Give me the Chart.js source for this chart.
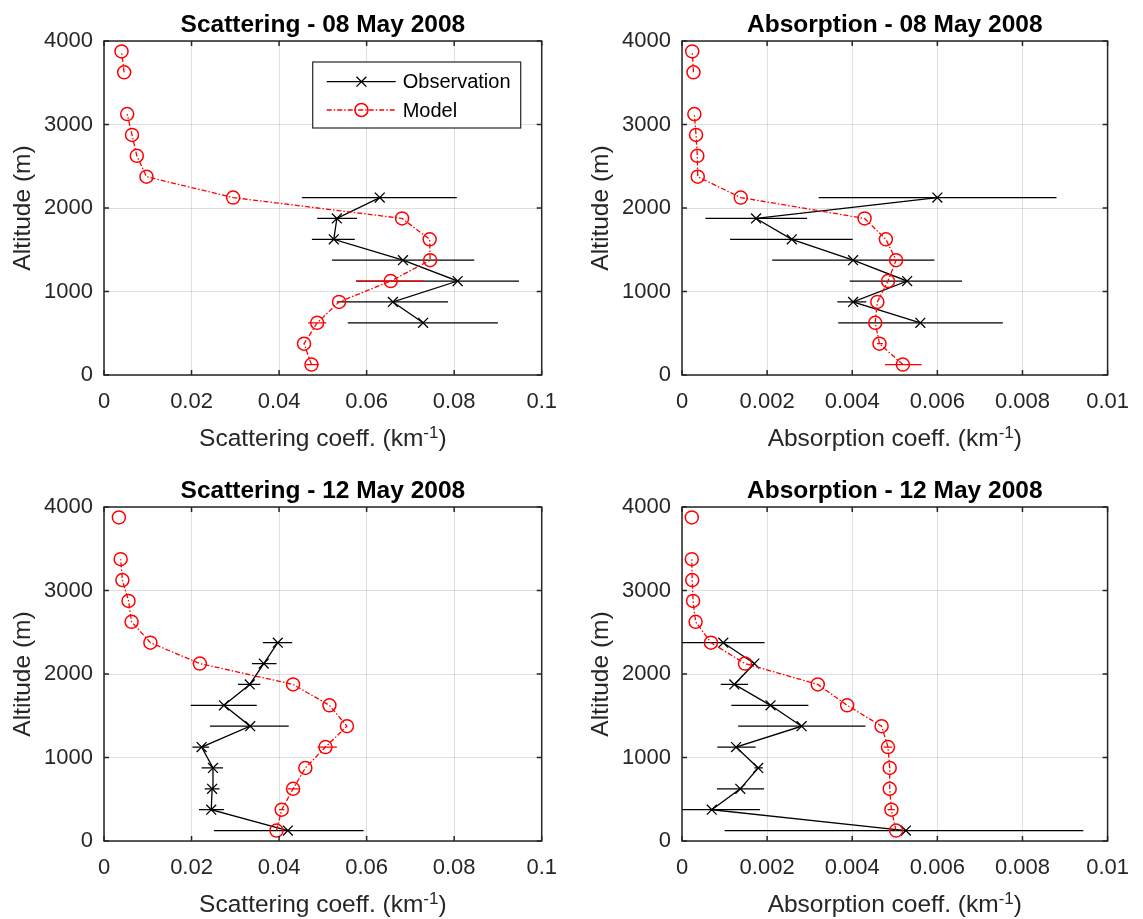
<!DOCTYPE html>
<html>
<head>
<meta charset="utf-8">
<title>Scattering and absorption profiles - May 2008</title>
<script src="https://cdn.jsdelivr.net/npm/chart.js@4.4.1/dist/chart.umd.min.js"></script>
<style>
  html, body { margin: 0; padding: 0; background: #fff; }
  body { width: 1143px; height: 919px; position: relative; overflow: hidden; }
  canvas { position: absolute; }
</style>
</head>
<body>
<canvas id="scat08" width="571" height="453" style="left:0;top:0;width:571px;height:453px"></canvas>
<canvas id="abs08" width="565" height="453" style="left:578px;top:0;width:565px;height:453px"></canvas>
<canvas id="scat12" width="571" height="453" style="left:0;top:466px;width:571px;height:453px"></canvas>
<canvas id="abs12" width="565" height="453" style="left:578px;top:466px;width:565px;height:453px"></canvas>
<script>
// altitude levels (m), bottom to top
const altitudeLevels = [125, 375, 625, 875, 1125, 1375, 1625, 1875, 2125, 2375, 2625, 2875, 3125, 3375, 3625, 3875];
const altitudeTicks = [0, 1000, 2000, 3000, 4000];
const scatTicks = [0, 0.02, 0.04, 0.06, 0.08, 0.1];
const absTicks = [0, 0.002, 0.004, 0.006, 0.008, 0.01];

// Scattering - 08 May 2008
const scat08Obs   = [null, null, 0.0729, 0.0660, 0.0808, 0.0683, 0.0525, 0.0532, 0.0630, null, null, null, null, null, null, null];
const scat08ObsLo = [null, null, 0.0557, 0.0532, 0.0576, 0.0521, 0.0475, 0.0487, 0.0452, null, null, null, null, null, null, null];
const scat08ObsHi = [null, null, 0.0900, 0.0786, 0.0948, 0.0846, 0.0573, 0.0578, 0.0806, null, null, null, null, null, null, null];
const scat08Mod   = [0.0474, 0.0457, 0.0487, 0.0537, 0.0655, 0.0745, 0.0744, 0.0681, 0.0295, 0.0097, 0.0075, 0.0064, 0.0053, null, 0.0046, 0.0040];
const scat08ModLo = [0.0462, null, 0.0466, null, 0.0576, null, null, null, null, null, null, null, null, null, null, null];
const scat08ModHi = [0.0490, null, 0.0508, null, 0.0732, null, null, null, null, null, null, null, null, null, null, null];

// Absorption - 08 May 2008
const abs08Obs   = [null, null, 0.00560, 0.00402, 0.00529, 0.00402, 0.00258, 0.00174, 0.00600, null, null, null, null, null, null, null];
const abs08ObsLo = [null, null, 0.00367, 0.00365, 0.00394, 0.00212, 0.00113, 0.00055, 0.00321, null, null, null, null, null, null, null];
const abs08ObsHi = [null, null, 0.00754, 0.00433, 0.00658, 0.00593, 0.00401, 0.00294, 0.00880, null, null, null, null, null, null, null];
const abs08Mod   = [0.00519, 0.00464, 0.00454, 0.00459, 0.00484, 0.00503, 0.00479, 0.00429, 0.00138, 0.00037, 0.00036, 0.00033, 0.00029, null, 0.00027, 0.00024];
const abs08ModLo = [0.00477, 0.00458, null, null, null, 0.00490, null, null, null, null, null, null, null, null, null, null];
const abs08ModHi = [0.00563, 0.00472, null, null, null, 0.00518, null, null, null, null, null, null, null, null, null, null];

// Scattering - 12 May 2008
const scat12Obs   = [0.0420, 0.0245, 0.0247, 0.0249, 0.0223, 0.0334, 0.0274, 0.0333, 0.0365, 0.0397, null, null, null, null, null, null];
const scat12ObsLo = [0.0251, 0.0217, 0.0230, 0.0223, 0.0202, 0.0242, 0.0198, 0.0306, 0.0338, 0.0363, null, null, null, null, null, null];
const scat12ObsHi = [0.0593, 0.0274, 0.0264, 0.0272, 0.0240, 0.0422, 0.0349, 0.0357, 0.0394, 0.0430, null, null, null, null, null, null];
const scat12Mod   = [0.0394, 0.0406, 0.0432, 0.0460, 0.0506, 0.0555, 0.0515, 0.0432, 0.0219, 0.0106, 0.0063, 0.0056, 0.0042, 0.0038, null, 0.0034];
const scat12ModLo = [null, 0.0400, 0.0420, null, 0.0488, null, null, null, null, null, null, null, null, null, null, null];
const scat12ModHi = [null, 0.0412, 0.0445, null, 0.0532, null, null, null, null, null, null, null, null, null, null, null];

// Absorption - 12 May 2008
const abs12Obs   = [0.00526, 0.00070, 0.00137, 0.00179, 0.00127, 0.00281, 0.00208, 0.00123, 0.00170, 0.00097, null, null, null, null, null, null];
const abs12ObsLo = [0.00100, -0.0002, 0.00082, 0.00170, 0.00083, 0.00132, 0.00116, 0.00091, null, -0.0002, null, null, null, null, null, null];
const abs12ObsHi = [0.00943, 0.00183, 0.00193, 0.00190, 0.00173, 0.00431, 0.00297, 0.00155, null, 0.00194, null, null, null, null, null, null];
const abs12Mod   = [0.00503, 0.00492, 0.00488, 0.00488, 0.00484, 0.00469, 0.00388, 0.00319, 0.00148, 0.00068, 0.00032, 0.00026, 0.00024, 0.00023, null, 0.00023];
const abs12ModLo = [null, 0.00483, null, null, 0.00474, null, null, null, null, null, null, null, null, null, null, null];
const abs12ModHi = [null, 0.00500, null, null, 0.00494, null, null, null, null, null, null, null, null, null, null, null];

const FONT = '"Liberation Sans", Arial, Helvetica, sans-serif';
const AXIS_COLOR = '#262626';
const GRID_COLOR = 'rgba(38,38,38,0.15)';
const MODEL_DASH = [5, 2, 1.5, 2];

function points(xs) {
    return altitudeLevels.map((alt, i) => ({ x: xs[i], y: alt }));
}

// one small two-point line per horizontal error bar
function errorBars(lo, hi, color, order) {
    const sets = [];
    altitudeLevels.forEach((alt, i) => {
        if (lo[i] == null) return;
        sets.push({
            data: [{ x: lo[i], y: alt }, { x: hi[i], y: alt }],
            showLine: true, borderColor: color, borderWidth: 1.3,
            pointRadius: 0, order: order
        });
    });
    return sets;
}

// box, inward ticks, x label with superscript, legend (MATLAB look)
const matlabAxes = {
    id: 'matlabAxes',
    afterDraw(chart, args, o) {
        const { ctx, chartArea: a, scales: { x, y } } = chart;
        ctx.save();
        ctx.strokeStyle = AXIS_COLOR;
        ctx.lineWidth = 1.5;
        ctx.beginPath();
        x.ticks.forEach(t => {
            const px = x.getPixelForValue(t.value);
            ctx.moveTo(px, a.bottom); ctx.lineTo(px, a.bottom - 5);
            ctx.moveTo(px, a.top); ctx.lineTo(px, a.top + 5);
        });
        y.ticks.forEach(t => {
            const py = y.getPixelForValue(t.value);
            ctx.moveTo(a.left, py); ctx.lineTo(a.left + 5, py);
            ctx.moveTo(a.right, py); ctx.lineTo(a.right - 5, py);
        });
        ctx.stroke();
        ctx.strokeRect(a.left, a.top, a.width, a.height);

        // x axis label: "<text> (km^-1)"
        const parts = [
            { t: o.xLabel + ' (km', size: 24.5, rise: 0 },
            { t: '-1', size: 17, rise: 7.5 },
            { t: ')', size: 24.5, rise: 0 }
        ];
        let total = 0;
        parts.forEach(p => { ctx.font = p.size + 'px ' + FONT; p.w = ctx.measureText(p.t).width; total += p.w; });
        let cx = (a.left + a.right) / 2 - total / 2;
        const base = a.bottom + 70.5;
        ctx.fillStyle = AXIS_COLOR;
        ctx.textBaseline = 'alphabetic';
        ctx.textAlign = 'left';
        parts.forEach(p => {
            ctx.font = p.size + 'px ' + FONT;
            ctx.fillText(p.t, cx, base - p.rise);
            cx += p.w;
        });

        if (o.legend) {
            const bw = 208, bh = 66;
            const bx = a.right - 21 - bw, by = a.top + 21;
            ctx.fillStyle = '#fff';
            ctx.fillRect(bx, by, bw, bh);
            ctx.lineWidth = 1.2;
            ctx.strokeStyle = AXIS_COLOR;
            ctx.strokeRect(bx, by, bw, bh);
            const entries = chart.data.datasets.filter(d => d.label).sort((p, q) => p.legendRank - q.legendRank);
            entries.forEach((d, i) => {
                const ly = by + 19.7 + i * 28.3;
                ctx.strokeStyle = d.borderColor;
                ctx.lineWidth = 1.3;
                ctx.setLineDash(d.borderDash || []);
                ctx.beginPath();
                ctx.moveTo(bx + 14, ly); ctx.lineTo(bx + 83, ly);
                ctx.stroke();
                ctx.setLineDash([]);
                const mx = bx + 48.7;
                ctx.lineWidth = d.pointBorderWidth;
                ctx.beginPath();
                if (d.pointStyle === 'circle') {
                    ctx.arc(mx, ly, d.pointRadius, 0, Math.PI * 2);
                } else {
                    const r = d.pointRadius * Math.SQRT1_2;
                    ctx.moveTo(mx - r, ly - r); ctx.lineTo(mx + r, ly + r);
                    ctx.moveTo(mx - r, ly + r); ctx.lineTo(mx + r, ly - r);
                }
                ctx.stroke();
                ctx.fillStyle = '#000';
                ctx.font = '20px ' + FONT;
                ctx.textBaseline = 'middle';
                ctx.fillText(d.label, bx + 90, ly + 1);
            });
        }
        ctx.restore();
    }
};

function makePanel(id, cfg) {
    const datasets = [
        {
            label: 'Model', legendRank: 1, data: points(cfg.mod), showLine: true,
            borderColor: '#ff0000', borderWidth: 1.3, borderDash: MODEL_DASH,
            pointStyle: 'circle', pointRadius: 6.5, pointBorderWidth: 1.5,
            pointBorderColor: '#ff0000', pointBackgroundColor: 'rgba(0,0,0,0)', order: 0
        },
        ...errorBars(cfg.modLo, cfg.modHi, '#ff0000', 1),
        {
            label: 'Observation', legendRank: 0, data: points(cfg.obs), showLine: true,
            borderColor: '#000', borderWidth: 1.3,
            pointStyle: 'crossRot', pointRadius: 7, pointBorderWidth: 1.3,
            pointBorderColor: '#000', pointBackgroundColor: 'rgba(0,0,0,0)', order: 2
        },
        ...errorBars(cfg.obsLo, cfg.obsHi, '#000', 3)
    ];
    const xt = cfg.xTicks;
    return new Chart(document.getElementById(id), {
        type: 'scatter',
        data: { datasets: datasets },
        plugins: [matlabAxes],
        options: {
            responsive: false,
            animation: false,
            events: [],
            layout: { padding: { left: 0, right: cfg.padRight, top: 0, bottom: 0 } },
            plugins: {
                legend: { display: false },
                tooltip: { enabled: false },
                title: {
                    display: true, text: cfg.title, fullSize: false, color: '#000',
                    font: { family: FONT, size: 24.5, weight: 'bold' },
                    padding: { top: 10.5, bottom: 1.1 }
                },
                matlabAxes: { xLabel: cfg.xLabel, legend: !!cfg.legend }
            },
            scales: {
                x: {
                    type: 'linear', min: xt[0], max: xt[xt.length - 1],
                    afterBuildTicks: s => { s.ticks = xt.map(v => ({ value: v })); },
                    afterFit: s => { s.height = 78; },
                    grid: { color: GRID_COLOR, lineWidth: 1, drawTicks: false },
                    border: { display: false },
                    ticks: {
                        font: { family: FONT, size: 22 }, color: AXIS_COLOR, padding: 14,
                        maxRotation: 0, autoSkip: false,
                        callback: v => String(+Number(v).toFixed(4))
                    }
                },
                y: {
                    type: 'linear', min: altitudeTicks[0], max: altitudeTicks[altitudeTicks.length - 1],
                    afterBuildTicks: s => { s.ticks = altitudeTicks.map(v => ({ value: v })); },
                    afterFit: s => { s.width = 104; },
                    grid: { color: GRID_COLOR, lineWidth: 1, drawTicks: false },
                    border: { display: false },
                    title: {
                        display: true, text: 'Altitude (m)', color: AXIS_COLOR,
                        font: { family: FONT, size: 24.5 }, padding: { top: 8.3, bottom: 0 }
                    },
                    ticks: {
                        font: { family: FONT, size: 22 }, color: AXIS_COLOR, padding: 11,
                        callback: v => String(v)
                    }
                }
            }
        }
    });
}

makePanel('scat08', {
    title: 'Scattering - 08 May 2008', xLabel: 'Scattering coeff.', xTicks: scatTicks, padRight: 29, legend: true,
    obs: scat08Obs, obsLo: scat08ObsLo, obsHi: scat08ObsHi, mod: scat08Mod, modLo: scat08ModLo, modHi: scat08ModHi
});
makePanel('abs08', {
    title: 'Absorption - 08 May 2008', xLabel: 'Absorption coeff.', xTicks: absTicks, padRight: 22,
    obs: abs08Obs, obsLo: abs08ObsLo, obsHi: abs08ObsHi, mod: abs08Mod, modLo: abs08ModLo, modHi: abs08ModHi
});
makePanel('scat12', {
    title: 'Scattering - 12 May 2008', xLabel: 'Scattering coeff.', xTicks: scatTicks, padRight: 29,
    obs: scat12Obs, obsLo: scat12ObsLo, obsHi: scat12ObsHi, mod: scat12Mod, modLo: scat12ModLo, modHi: scat12ModHi
});
makePanel('abs12', {
    title: 'Absorption - 12 May 2008', xLabel: 'Absorption coeff.', xTicks: absTicks, padRight: 22,
    obs: abs12Obs, obsLo: abs12ObsLo, obsHi: abs12ObsHi, mod: abs12Mod, modLo: abs12ModLo, modHi: abs12ModHi
});
</script>
</body>
</html>
